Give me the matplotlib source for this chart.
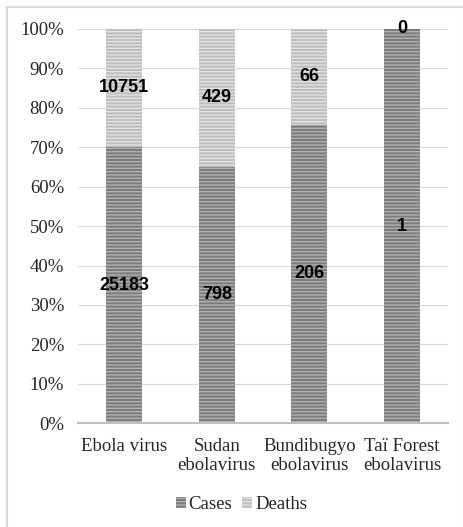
import numpy as np
import matplotlib
matplotlib.use('Agg')
import matplotlib.pyplot as plt
from matplotlib.patches import Rectangle

# datos del grafico
categories = ['Ebola virus', 'Sudan\nebolavirus', 'Bundibugyo\nebolavirus', 'Taï Forest\nebolavirus']
cases = [25183, 798, 206, 1]
deaths = [10751, 429, 66, 0]
y_ticks = [0, 10, 20, 30, 40, 50, 60, 70, 80, 90, 100]

plt.rcParams['hatch.linewidth'] = 1.0

cases_arr = np.array(cases, dtype=float)
deaths_arr = np.array(deaths, dtype=float)
total = cases_arr + deaths_arr
cases_pct = cases_arr / total * 100
deaths_pct = deaths_arr / total * 100

fig = plt.figure(figsize=(4.64, 5.27), dpi=100)
ax = fig.add_axes([0.168, 0.197, 0.798, 0.748])

x = np.arange(len(categories))
w = 0.39
ax.bar(x, cases_pct, w, color='#7c7c7c', edgecolor='#b0b0b0', hatch='-----', linewidth=0)
ax.bar(x, deaths_pct, w, bottom=cases_pct, color='#bdbdbd', edgecolor='#e2e2e2', hatch='-----', linewidth=0)

# etiquetas de valores
for i in range(len(categories)):
    ax.text(x[i], cases_pct[i] / 2, str(cases[i]), ha='center', va='center',
            fontsize=13, fontweight='bold', family='Liberation Sans')
    ax.text(x[i], cases_pct[i] + deaths_pct[i] / 2, str(deaths[i]), ha='center', va='center',
            fontsize=13, fontweight='bold', family='Liberation Sans')

ax.set_xlim(-0.5, len(categories) - 0.5)
ax.set_ylim(0, 100)
ax.set_yticks(y_ticks)
ax.set_yticklabels([f'{t}%' for t in y_ticks], family='Liberation Serif', fontsize=13.5, color='#262626')
ax.set_xticks(x)
ax.set_xticklabels(categories, family='Liberation Serif', fontsize=13.5, linespacing=1.12, color='#262626')
ax.tick_params(axis='y', length=0, pad=10)
ax.tick_params(axis='x', length=0, pad=11)
ax.grid(axis='y', color='#d9d9d9', linewidth=0.8)
ax.set_axisbelow(True)
for s in ['top', 'right', 'left']:
    ax.spines[s].set_visible(False)
ax.spines['bottom'].set_color('#bfbfbf')
ax.spines['bottom'].set_linewidth(1.5)

# leyenda
h1 = Rectangle((0, 0), 1, 1, facecolor='#7c7c7c', edgecolor='#b0b0b0', hatch='-----', linewidth=0)
h2 = Rectangle((0, 0), 1, 1, facecolor='#bdbdbd', edgecolor='#e2e2e2', hatch='-----', linewidth=0)
fig.legend([h1, h2], ['Cases', 'Deaths'], loc='center', bbox_to_anchor=(0.52, 0.043),
           ncol=2, frameon=False, handlelength=0.55, handleheight=0.55, handletextpad=0.15,
           columnspacing=0.5, prop={'family': 'Liberation Serif', 'size': 13.5}, labelcolor='#262626')

# borde exterior
fig.patches.append(Rectangle((0.015, -0.01), 0.985, 0.997, transform=fig.transFigure,
                             fill=False, edgecolor='#d9d9d9', linewidth=1.5))

fig.savefig('out.png', dpi=100)
